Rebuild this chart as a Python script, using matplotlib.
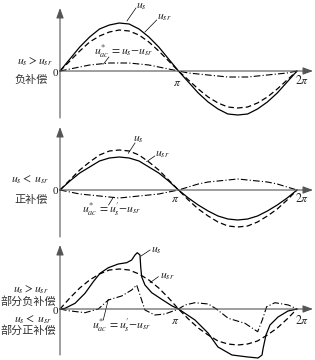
import matplotlib.pyplot as plt
import numpy as np

plt.rcParams['mathtext.fontset'] = 'stix'
plt.rcParams['font.family'] = ['Noto Sans CJK SC', 'DejaVu Sans']

# 相位 (单位: π), 每15°读一个点
th = np.arange(25) / 12

# 负补偿 us > usr
us1 = [0, 12, 24, 34, 42, 46, 48, 47, 42, 34, 24, 12, 0, -11, -22, -31, -38, -43, -44, -43, -38, -31, -22, -11, 0]
ur1 = [0, 10, 20, 29, 35, 39, 41, 40, 36, 29, 20, 10, 0, -9, -18, -26, -32, -36, -37, -36, -32, -26, -18, -9, 0]
uac1 = [0, 2, 4, 6, 7, 8, 8, 8, 7, 6, 4, 2, 0, -2, -3, -4, -5, -6, -6, -6, -5, -4, -3, -2, 0]

# 正补偿 us < usr
us2 = [0, 9, 17, 23, 29, 32, 33, 32, 29, 23, 17, 9, 0, -8, -15, -21, -26, -29, -30, -29, -26, -21, -15, -8, 0]
ur2 = [0, 10, 20, 28, 35, 39, 40, 39, 35, 28, 20, 10, 0, -10, -19, -26, -32, -36, -37, -36, -32, -26, -19, -10, 0]
uac2 = [0, -2, -4, -5, -6, -7, -8, -7, -6, -5, -4, -2, 0, 3, 6, 8, 9, 10, 11, 10, 9, 8, 6, 3, 0]

# 部分负补偿/部分正补偿 (畸变波形)
us3_x = [0, 0.042, 0.127, 0.211, 0.281, 0.338, 0.408, 0.492, 0.563, 0.605, 0.633, 0.652, 0.675, 0.681,
         0.689, 0.717, 0.774, 0.858, 0.942, 1.0, 1.139, 1.249, 1.333, 1.451, 1.586, 1.671, 1.705, 1.713,
         1.738, 1.772, 1.840, 1.924, 2.0]
us3_y = [0, 0.7, 5.7, 15.7, 27.3, 35.7, 41.3, 45, 46.3, 49, 54, 56.3, 54, 42.3,
         32.3, 24, 16.3, 9.7, 3.3, 0, -11, -24, -38, -46, -48, -49, -46, -40,
         -26, -16, -8, -2, 0]
ur3 = [0, 11, 21, 29, 35, 39, 40, 39, 35, 29, 21, 11, 0, -10, -19, -26, -32, -35, -36, -35, -32, -26, -19, -10, 0]
uac3_x = [0, 0.07, 0.211, 0.323, 0.408, 0.52, 0.605, 0.647, 0.684, 0.717, 0.80, 0.886, 1.0,
          1.055, 1.139, 1.252, 1.32, 1.42, 1.561, 1.668, 1.707, 1.744, 1.814, 1.927, 2.0]
uac3_y = [0, -1.7, -3.7, 0, 9, 13, 19, 24, 10.7, -1, -6, -5, 0,
          4, 6.3, 5, 0, -9.3, -14.3, -22.7, -11, 2.3, 6.3, 4, 0]

fig = plt.figure(figsize=(3.15, 3.6), dpi=100)

# 每个子图的 y 范围
panels = [(-49, 71), (-50, 70), (-51, 69)]
axes = []
for i, (lo, hi) in enumerate(panels):
    ax = fig.add_axes([0, 1 - (i + 1) / 3, 1, 1 / 3])
    ax.set_xlim(-60 / 118.5, 255 / 118.5)
    ax.set_ylim(lo, hi)
    ax.axis('off')
    axes.append(ax)

txt_c = '#222222'
zh_c = '#333333'
ax_c = '#555555'
mfs = 8.5


def draw_axes(ax, ybot, ytop):
    arr = dict(arrowstyle='-|>,head_length=0.6,head_width=0.22', color=ax_c, lw=0.8,
               shrinkA=0, shrinkB=0, mutation_scale=10)
    ax.annotate('', xy=(2.135, 0), xytext=(0, 0), arrowprops=arr)
    ax.annotate('', xy=(0, ytop), xytext=(0, ybot), arrowprops=arr)
    ax.text(-0.013, -2, '0', ha='right', va='center', fontsize=8, color=txt_c,
            family='Liberation Serif')


def leader(ax, p0, p1):
    ax.plot([p0[0], p1[0]], [p0[1], p1[1]], color='k', lw=0.5)


def curves(ax, xs, ys, xr, yr, xa, ya):
    ax.plot(xs, ys, color='k', lw=0.9)
    ax.plot(xr, yr, color='k', lw=0.9, dashes=(4.5, 2.5))
    ax.plot(xa, ya, color='k', lw=0.8, dashes=(6, 2, 1, 2))


ac1 = "$u_{ac}^{*}\\,{=}u_s{-}u_{sr}$"
ac2 = "$u_{ac}^{*}\\,{=}u_s'{-}u_{sr}$"

# ---------- 子图1 ----------
ax = axes[0]
draw_axes(ax, -47, 63)
curves(ax, th, us1, th, ur1, th, uac1)
ax.text(0.64, 66, '$u_s$', fontsize=mfs, va='center', color=txt_c)
leader(ax, (0.565, 50), (0.641, 63))
ax.text(0.82, 54.5, '$u_{sr}$', fontsize=mfs, va='center', color=txt_c)
leader(ax, (0.717, 39), (0.816, 51))
ax.text(0.29, 19.5, ac1, fontsize=mfs, va='center', color=txt_c)
leader(ax, (0.367, 7), (0.413, 14))
ax.text(-0.211, 10, '$u_s{>}u_{sr}$', fontsize=mfs, ha='center', va='center', color=txt_c)
ax.text(-0.245, -9, '负补偿', fontsize=8, ha='center', va='center', color=zh_c)
ax.text(0.985, -12, '$\\pi$', fontsize=mfs, ha='center', va='center', color=txt_c)
ax.text(2.04, -9, '$2\\pi$', fontsize=mfs, ha='center', va='center', color=txt_c)

# ---------- 子图2 ----------
ax = axes[1]
draw_axes(ax, -47, 63)
curves(ax, th, us2, th, ur2, th, uac2)
ax.text(0.658, 51.5, '$u_s$', fontsize=mfs, ha='center', va='center', color=txt_c)
leader(ax, (0.576, 36.7), (0.633, 47))
ax.text(0.80, 36, '$u_{sr}$', fontsize=mfs, va='center', color=txt_c)
leader(ax, (0.731, 28.3), (0.80, 34))
ax.text(0.183, -19, ac2, fontsize=mfs, va='center', color=txt_c)
leader(ax, (0.45, -7.3), (0.41, -15))
ax.text(-0.253, 10, '$u_s{<}\\ u_{sr}$', fontsize=mfs, ha='center', va='center', color=txt_c)
ax.text(-0.245, -10, '正补偿', fontsize=8, ha='center', va='center', color=zh_c)
ax.text(0.97, -8.3, '$\\pi$', fontsize=mfs, ha='center', va='center', color=txt_c)
ax.text(2.04, -8.3, '$2\\pi$', fontsize=mfs, ha='center', va='center', color=txt_c)

# ---------- 子图3 ----------
ax = axes[2]
draw_axes(ax, -46, 64)
curves(ax, us3_x, us3_y, th, ur3, uac3_x, uac3_y)
ax.text(0.77, 59, '$u_s$', fontsize=mfs, va='center', color=txt_c)
leader(ax, (0.684, 53), (0.76, 59))
ax.text(0.844, 34, '$u_{sr}$', fontsize=mfs, va='center', color=txt_c)
leader(ax, (0.76, 26.3), (0.83, 32.3))
ax.text(0.267, -16, ac2, fontsize=mfs, va='center', color=txt_c)
leader(ax, (0.408, 9.7), (0.365, -11))
ax.text(-0.249, 19, '$u_s{>}u_{sr}$', fontsize=mfs, ha='center', va='center', color=txt_c)
ax.text(-0.266, 7.5, '部分负补偿', fontsize=8, ha='center', va='center', color=zh_c)
ax.text(-0.224, -10, '$u_s{<}\\ u_{sr}$', fontsize=mfs, ha='center', va='center', color=txt_c)
ax.text(-0.266, -21.5, '部分正补偿', fontsize=8, ha='center', va='center', color=zh_c)
ax.text(0.975, -11.5, '$\\pi$', fontsize=mfs, ha='center', va='center', color=txt_c)
ax.text(2.04, -11, '$2\\pi$', fontsize=mfs, ha='center', va='center', color=txt_c)

fig.savefig('out.png', dpi=100)
